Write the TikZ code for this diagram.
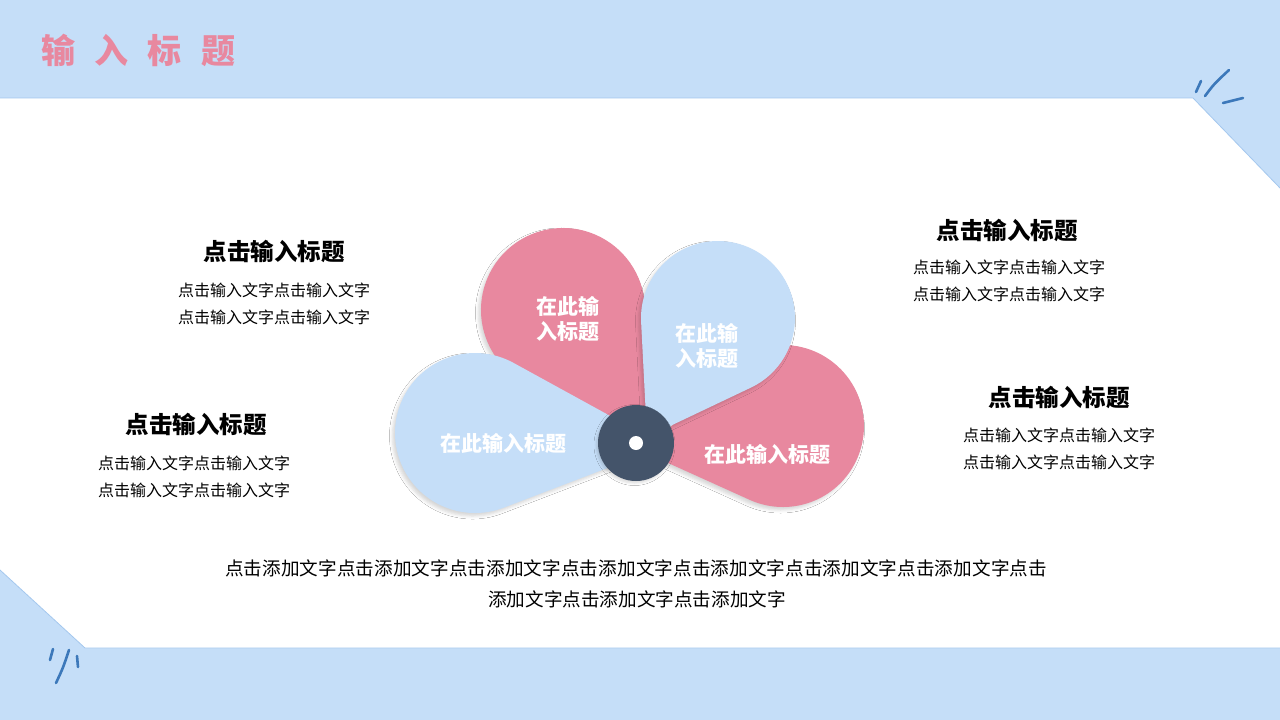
\documentclass[tikz,border=0pt]{standalone}
\usepackage{fontspec}
\newfontfamily\cjk{Noto Sans CJK SC}
\usetikzlibrary{shadows.blur,calc}
\definecolor{bgblue}{HTML}{C5DEF8}
\definecolor{edgeblue}{HTML}{A3C7EE}
\definecolor{petalpink}{HTML}{E8889F}
\definecolor{petalblue}{HTML}{C5DEF8}
\definecolor{hub}{HTML}{44546A}
\definecolor{scribble}{HTML}{3C78BA}
\definecolor{titlepink}{HTML}{E8889F}
\XeTeXcharclass`点=5 \XeTeXcharclass`击=5 \XeTeXcharclass`添=5
\XeTeXcharclass`加=5 \XeTeXcharclass`文=5 \XeTeXcharclass`字=5
\tikzset{
  panel/.style={fill=white},
  paneledge/.style={draw=edgeblue,line width=0.8pt},
  scrib/.style={draw=scribble,line width=2.6pt,line cap=round},
  petalshadow/.style={blur shadow={shadow xshift=-2.5pt,shadow yshift=-3pt,shadow blur radius=3pt,shadow opacity=16}},
  petaltext/.style={text=white,font=\cjk\bfseries\fontsize{21}{25}\selectfont,align=center,inner sep=0pt},
  headtext/.style={text=black,font=\cjk\bfseries\fontsize{23.5}{27}\selectfont,inner sep=0pt},
  bodytext/.style={text=black,font=\cjk\fontsize{16}{27}\selectfont,align=center,inner sep=0pt},
  foottext/.style={text=black,font=\cjk\fontsize{18.6}{31}\selectfont,inner sep=0pt},
}
% petal: name, colour, tip x, tip y, centre x, centre y, radius (image coordinates)
\newcommand\drawpetal[7]{%
  \pgfmathsetmacro\pdx{#5-#3}%
  \pgfmathsetmacro\pdy{#4-#6}%
  \pgfmathsetmacro\pd{veclen(\pdx,\pdy)}%
  \pgfmathsetmacro\pang{atan2(\pdy,\pdx)}%
  \pgfmathsetmacro\pa{asin(#7/\pd)}%
  \pgfmathsetmacro\ps{\pang+90+\pa}%
  \pgfmathsetmacro\pe{\pang-90-\pa}%
  \begin{scope}[shift={(#3,#4)},y=1pt]
    \fill[#2,petalshadow] (0,0) -- ($(\pang:\pd)+(\ps:#7)$)
      arc[start angle=\ps,end angle=\pe,radius=#7] -- cycle;
    \coordinate (#1) at (\pang:\pd);
  \end{scope}}
\begin{document}
\begin{tikzpicture}[x=1pt,y=-1pt]
\useasboundingbox (0,0) rectangle (1280,720);
\fill[bgblue] (0,0) rectangle (1280,720);
\fill[panel] (0,98) -- (1193,98) -- (1280,188) -- (1280,648) -- (85,648) -- (0,570) -- cycle;
\draw[paneledge] (0,98) -- (1193,98) -- (1280,188);
\draw[paneledge] (1280,648) -- (85,648) -- (0,570);
% scribbles
\draw[scrib] (1196,92) -- (1201,81);
\draw[scrib] (1205,96) .. controls (1214,84) .. (1229,70);
\draw[scrib] (1223,103) -- (1243,98);
\draw[scrib] (50,660) -- (53,649);
\draw[scrib] (56,683) .. controls (63,668) .. (69,650);
\draw[scrib] (78,667) -- (77,656);
% title
\node[anchor=west,inner sep=0pt,text=titlepink,font=\cjk\bfseries\fontsize{34}{40}\selectfont\addfontfeatures{LetterSpace=57}] (title) at (41,50) {输入标题};
% petals
\drawpetal{p2}{petalpink}{655}{440}{563}{310}{82}
\drawpetal{p4}{petalpink}{646}{453}{783}{426}{81}
\drawpetal{p1}{petalblue}{665}{446}{475}{433}{80}
\drawpetal{p3}{petalblue}{647}{437}{718}{318}{77}
\fill[hub,blur shadow={shadow xshift=-1.5pt,shadow yshift=-2pt,shadow blur radius=2.5pt,shadow opacity=15}] (636,443) circle[radius=38];
\fill[white] (636,443) circle[radius=7];
\node[petaltext] (t2) at (568,319) {在此输\\入标题};
\node[petaltext] (t3) at (707,346) {在此输\\入标题};
\node[petaltext] (t1) at (503,443) {在此输入标题};
\node[petaltext] (t4) at (767,454) {在此输入标题};
% side texts
\node[headtext] (h1) at (274,251) {点击输入标题};
\node[bodytext] (b1) at (274,304) {点击输入文字点击输入文字\\点击输入文字点击输入文字};
\node[headtext] (h2) at (196,424) {点击输入标题};
\node[bodytext] (b2) at (194,477) {点击输入文字点击输入文字\\点击输入文字点击输入文字};
\node[headtext] (h3) at (1007,230) {点击输入标题};
\node[bodytext] (b3) at (1009,281) {点击输入文字点击输入文字\\点击输入文字点击输入文字};
\node[headtext] (h4) at (1059,397) {点击输入标题};
\node[bodytext] (b4) at (1059,449) {点击输入文字点击输入文字\\点击输入文字点击输入文字};
% footer
\node[foottext] (f1) at (636,568) {\hbox to 822pt{\XeTeXinterchartokenstate=1 \XeTeXinterchartoks 5 5 = {\hfil}点击添加文字点击添加文字点击添加文字点击添加文字点击添加文字点击添加文字点击添加文字点击}};
\node[foottext] (f2) at (637,599) {添加文字点击添加文字点击添加文字};
\end{tikzpicture}
\end{document}
